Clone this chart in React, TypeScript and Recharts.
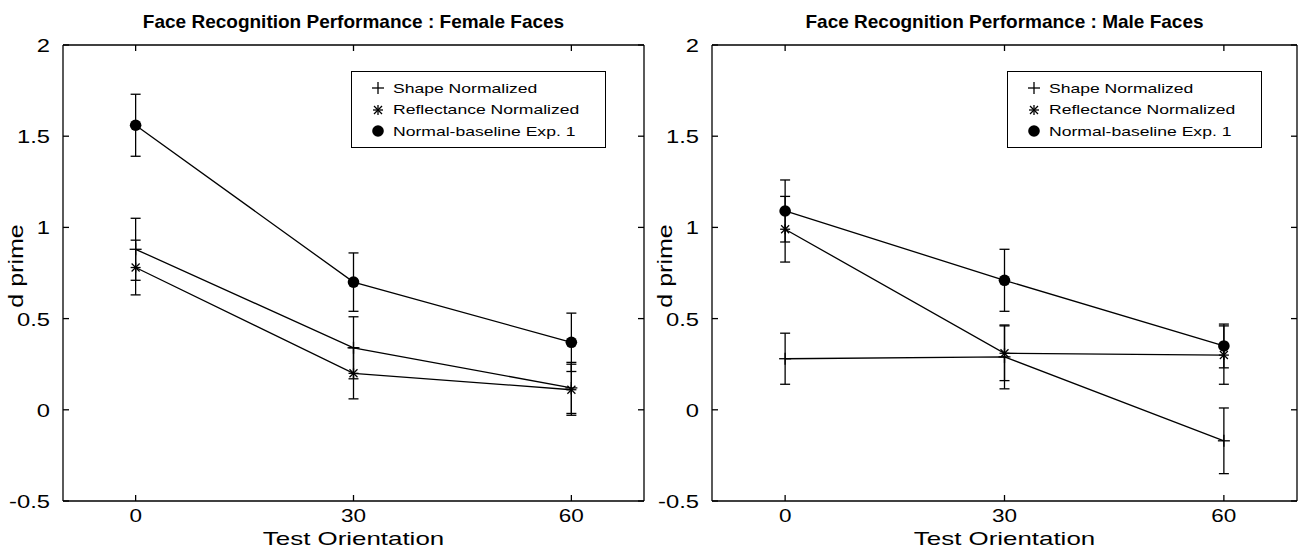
import React from 'react';
import { LineChart, Line, XAxis, YAxis, ErrorBar, Label } from 'recharts';

// test orientations (degrees) and d prime values
const orientations = [0, 30, 60];
const xTicks = [0, 30, 60];
const yTicks = [-0.5, 0, 0.5, 1, 1.5, 2];

const femaleShape = [0.88, 0.34, 0.12];
const femaleShapeErr = [0.17, 0.17, 0.14];
const femaleRefl = [0.78, 0.2, 0.11];
const femaleReflErr = [0.15, 0.14, 0.14];
const femaleNormal = [1.56, 0.7, 0.37];
const femaleNormalErr = [0.17, 0.16, 0.16];

const maleShape = [0.28, 0.29, -0.17];
const maleShapeErr = [0.14, 0.175, 0.18];
const maleRefl = [0.99, 0.31, 0.3];
const maleReflErr = [0.18, 0.15, 0.16];
const maleNormal = [1.09, 0.71, 0.35];
const maleNormalErr = [0.17, 0.17, 0.12];

const legendLabels = ['Shape Normalized', 'Reflectance Normalized', 'Normal-baseline Exp. 1'];

const FONT = '"Liberation Sans", Arial, Helvetica, sans-serif';
const STRETCH = 1.25; // the scanned figure uses a wide sans face for axis text

function buildRows(shape: number[], shapeErr: number[], refl: number[], reflErr: number[], normal: number[], normalErr: number[]) {
  return orientations.map((o, i) => ({
    orientation: o,
    shape: shape[i],
    shapeErr: shapeErr[i],
    refl: refl[i],
    reflErr: reflErr[i],
    normal: normal[i],
    normalErr: normalErr[i],
  }));
}

const femaleRows = buildRows(femaleShape, femaleShapeErr, femaleRefl, femaleReflErr, femaleNormal, femaleNormalErr);
const maleRows = buildRows(maleShape, maleShapeErr, maleRefl, maleReflErr, maleNormal, maleNormalErr);

const fmtTick = (v: number) => String(v);

// wide text, as in the original print
const WideText = ({ x, y, anchor, size, rotate, stretch = STRETCH, children }: any) => (
  <text
    transform={`translate(${x},${y})${rotate ? ' rotate(-90)' : ''} scale(${stretch},1)`}
    textAnchor={anchor} fontSize={size} fontFamily={FONT} fill="#000"
  >
    {children}
  </text>
);

// markers
const PlusMark = ({ cx, cy }: any) => (
  <g stroke="#000" strokeWidth={1.3}>
    <line x1={cx - 6} x2={cx + 6} y1={cy} y2={cy} />
    <line x1={cx} x2={cx} y1={cy - 6} y2={cy + 6} />
  </g>
);

const StarMark = ({ cx, cy }: any) => (
  <g stroke="#000" strokeWidth={1.3}>
    <line x1={cx - 5} x2={cx + 5} y1={cy} y2={cy} />
    <line x1={cx} x2={cx} y1={cy - 5} y2={cy + 5} />
    <line x1={cx - 4} x2={cx + 4} y1={cy - 4} y2={cy + 4} />
    <line x1={cx - 4} x2={cx + 4} y1={cy + 4} y2={cy - 4} />
  </g>
);

const CircleMark = ({ cx, cy }: any) => <circle cx={cx} cy={cy} r={5.8} fill="#000" />;

const markers = [PlusMark, StarMark, CircleMark];

// inward MATLAB style ticks
const BottomTick = ({ x, y, payload }: any) => (
  <g>
    <line x1={x} x2={x} y1={y} y2={y - 6} stroke="#000" strokeWidth={1.3} />
    <WideText x={x} y={y + 21} anchor="middle" size={18}>{fmtTick(payload.value)}</WideText>
  </g>
);
const TopTick = ({ x, y }: any) => <line x1={x} x2={x} y1={y} y2={y + 6} stroke="#000" strokeWidth={1.3} />;
const LeftTick = ({ x, y, payload }: any) => (
  <g>
    <line x1={x} x2={x + 6} y1={y} y2={y} stroke="#000" strokeWidth={1.3} />
    <WideText x={x - 13} y={y + 7} anchor="end" size={19}>{fmtTick(payload.value)}</WideText>
  </g>
);
const RightTick = ({ x, y }: any) => <line x1={x} x2={x - 6} y1={y} y2={y} stroke="#000" strokeWidth={1.3} />;

function Panel({ rows, title, left, margin, legendLeft }: any) {
  const plotLeft = margin.left + 1;
  const plotWidth = 650 - margin.left - margin.right - 2;
  return (
    <div style={{ position: 'absolute', left, top: 0, width: 650, height: 550 }}>
      <div
        style={{
          position: 'absolute', left: plotLeft, width: plotWidth, top: 11, textAlign: 'center',
          fontFamily: FONT, fontWeight: 'bold', fontSize: 19, color: '#000', whiteSpace: 'nowrap',
        }}
      >
        {title}
      </div>
      <LineChart width={650} height={550} data={rows} margin={margin}>
        <XAxis
          dataKey="orientation" type="number" domain={[-10, 70]} ticks={xTicks} interval={0}
          allowDataOverflow height={1} tickSize={0} tickMargin={0} stroke="#000" strokeWidth={1.3}
          tick={(p: any) => <BottomTick key={p.index} {...p} />}
        >
          <Label
            content={({ viewBox }: any) => (
              <WideText x={viewBox.x + viewBox.width / 2} y={545} anchor="middle" size={18.5} stretch={1.4}>
                Test Orientation
              </WideText>
            )}
          />
        </XAxis>
        <XAxis
          xAxisId="top" orientation="top" dataKey="orientation" type="number" domain={[-10, 70]}
          ticks={xTicks} interval={0} allowDataOverflow height={1} tickSize={0} tickMargin={0}
          stroke="#000" strokeWidth={1.3}
          tick={(p: any) => <TopTick key={p.index} {...p} />}
        />
        <YAxis
          type="number" domain={[-0.5, 2]} ticks={yTicks} interval={0} allowDataOverflow width={1}
          tickSize={0} tickMargin={0} stroke="#000" strokeWidth={1.3}
          tick={(p: any) => <LeftTick key={p.index} {...p} />}
        >
          <Label
            content={({ viewBox }: any) => (
              <WideText x={viewBox.x - 39} y={viewBox.y + viewBox.height / 2 - 7} anchor="middle" size={20} rotate>
                d prime
              </WideText>
            )}
          />
        </YAxis>
        <YAxis
          yAxisId="right" orientation="right" type="number" domain={[-0.5, 2]} ticks={yTicks} interval={0}
          allowDataOverflow width={1} tickSize={0} tickMargin={0} stroke="#000" strokeWidth={1.3}
          tick={(p: any) => <RightTick key={p.index} {...p} />}
        />
        {['shape', 'refl', 'normal'].map((key, i) => {
          const Mark = markers[i];
          return (
            <Line
              key={key} dataKey={key} stroke="#000" strokeWidth={1.3} isAnimationActive={false}
              dot={(p: any) => <Mark key={p.index} cx={p.cx} cy={p.cy} />} activeDot={false}
            >
              <ErrorBar dataKey={key + 'Err'} width={5} stroke="#000" strokeWidth={1.3} direction="y" />
            </Line>
          );
        })}
      </LineChart>
      <div
        style={{
          position: 'absolute', left: legendLeft, top: 71, width: 255, height: 77,
          border: '1.3px solid #000', background: '#fff', boxSizing: 'border-box',
          fontFamily: FONT, fontSize: 13.5, color: '#000',
        }}
      >
        {legendLabels.map((label, i) => {
          const Mark = markers[i];
          return (
            <div key={label} style={{ position: 'absolute', left: 0, top: 6 + i * 21.5, height: 20, display: 'flex', alignItems: 'center', whiteSpace: 'nowrap' }}>
              <svg width={41} height={20} style={{ display: 'block' }}>
                <Mark cx={26} cy={10} />
              </svg>
              <span style={{ display: 'inline-block', transform: 'scaleX(1.3)', transformOrigin: 'left center' }}>{label}</span>
            </div>
          );
        })}
      </div>
    </div>
  );
}

export default function App() {
  return (
    <div style={{ position: 'absolute', left: 0, top: 0, width: 1300, height: 550, background: '#fff' }}>
      <Panel
        rows={femaleRows} title="Face Recognition Performance : Female Faces" left={0}
        margin={{ top: 44, right: 5, bottom: 48, left: 62 }} legendLeft={351}
      />
      <Panel
        rows={maleRows} title="Face Recognition Performance : Male Faces" left={650}
        margin={{ top: 44, right: 2, bottom: 48, left: 61 }} legendLeft={357}
      />
    </div>
  );
}
